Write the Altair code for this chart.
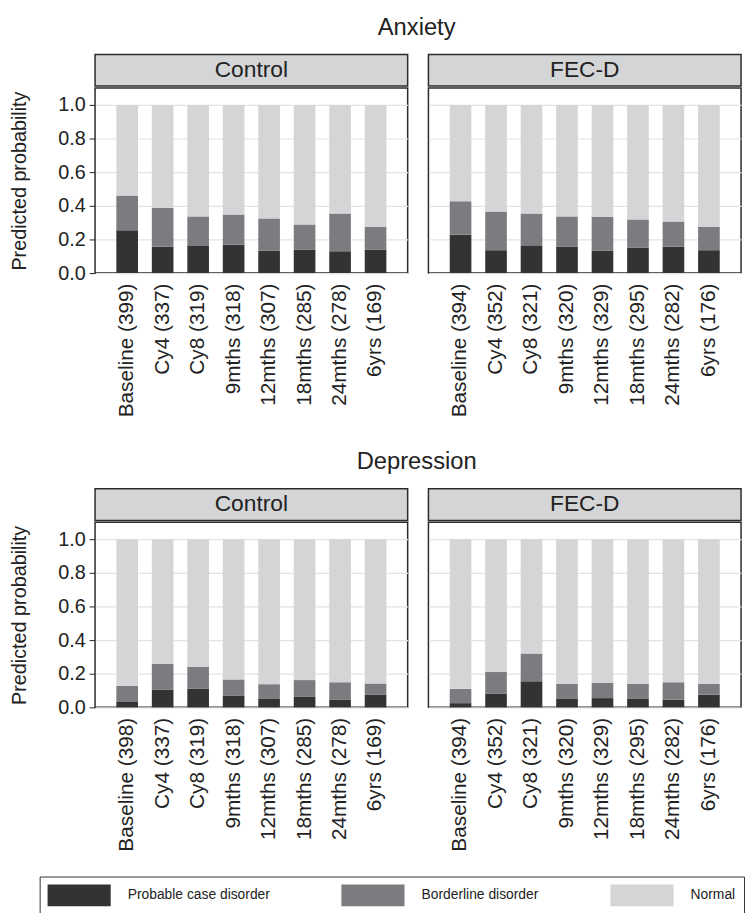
import altair as alt
import pandas as pd

FONT = "Liberation Sans"

outcomes = ["Anxiety", "Depression"]
groups = ["Control", "FEC-D"]
timepoints = ["Baseline", "Cy4", "Cy8", "9mths", "12mths", "18mths", "24mths", "6yrs"]
categories = ["Probable case disorder", "Borderline disorder", "Normal"]
colors = ["#333333", "#7b7c7f", "#d4d5d7"]

# sample sizes shown in tick labels
n_anx_control = [399, 337, 319, 318, 307, 285, 278, 169]
n_anx_fecd = [394, 352, 321, 320, 329, 295, 282, 176]
n_dep_control = [398, 337, 319, 318, 307, 285, 278, 169]
n_dep_fecd = [394, 352, 321, 320, 329, 295, 282, 176]

# predicted probabilities
prob_anx_control = [0.254, 0.157, 0.161, 0.169, 0.134, 0.138, 0.130, 0.138]
border_anx_control = [0.207, 0.231, 0.176, 0.179, 0.191, 0.151, 0.224, 0.138]
prob_anx_fecd = [0.228, 0.136, 0.165, 0.156, 0.134, 0.150, 0.156, 0.136]
border_anx_fecd = [0.199, 0.230, 0.189, 0.181, 0.201, 0.169, 0.151, 0.140]
prob_dep_control = [0.032, 0.104, 0.110, 0.068, 0.050, 0.062, 0.046, 0.074]
border_dep_control = [0.096, 0.154, 0.132, 0.098, 0.088, 0.100, 0.104, 0.068]
prob_dep_fecd = [0.025, 0.080, 0.155, 0.050, 0.055, 0.050, 0.045, 0.075]
border_dep_fecd = [0.085, 0.130, 0.165, 0.090, 0.090, 0.090, 0.105, 0.065]

series = {
    ("Anxiety", "Control"): (n_anx_control, prob_anx_control, border_anx_control),
    ("Anxiety", "FEC-D"): (n_anx_fecd, prob_anx_fecd, border_anx_fecd),
    ("Depression", "Control"): (n_dep_control, prob_dep_control, border_dep_control),
    ("Depression", "FEC-D"): (n_dep_fecd, prob_dep_fecd, border_dep_fecd),
}

rows = []
for (outcome, group), (ns, probs, borders) in series.items():
    for tp, n, p, b in zip(timepoints, ns, probs, borders):
        label = f"{tp} ({n})"
        vals = [p, b, 1 - p - b]
        for rank, (cat, v) in enumerate(zip(categories, vals)):
            rows.append({"outcome": outcome, "group": group, "label": label,
                         "category": cat, "value": v, "rank": rank})
df = pd.DataFrame(rows)

W = 316
H = 187
STRIP_H = 32


def panel(outcome, group, first):
    ns = series[(outcome, group)][0]
    labels = [f"{tp} ({n})" for tp, n in zip(timepoints, ns)]
    d = df[(df.outcome == outcome) & (df.group == group)]

    strip = alt.Chart(pd.DataFrame({"g": [group]})).mark_text(
        font=FONT, fontSize=23, color="#222222", baseline="middle", align="center"
    ).encode(text="g:N").properties(
        width=W, height=STRIP_H,
        view=alt.ViewBackground(fill="#d4d5d7", stroke="#2b2b2b", strokeWidth=1.5),
    )

    yaxis = alt.Axis(
        values=[0, 0.2, 0.4, 0.6, 0.8, 1.0], format=".1f",
        title="Predicted probability" if first else None,
        labels=first, ticks=first, tickSize=6, tickColor="#222222",
        domain=False, grid=True, gridColor="#e3e3e3", gridWidth=1.2,
        labelFontSize=20, titleFontSize=20, titleFontWeight="normal",
        titlePadding=29, labelPadding=4,
    )
    bars = alt.Chart(d).mark_bar().encode(
        x=alt.X("label:N", sort=labels,
                scale=alt.Scale(paddingInner=0.39, paddingOuter=0.6),
                axis=alt.Axis(title=None, labelAngle=-90, ticks=False, domain=False,
                              labelFontSize=21, labelPadding=10, labelLimit=300)),
        y=alt.Y("value:Q", stack="zero",
                scale=alt.Scale(domain=[0, 1.1], nice=False), axis=yaxis),
        color=alt.Color("category:N",
                        scale=alt.Scale(domain=categories, range=colors),
                        legend=alt.Legend(
                            title=None, orient="none", legendX=-56, legendY=831,
                            direction="horizontal", columns=3, gridAlign="each",
                            symbolType="M-1,-1H4.8V1H-1Z", symbolSize=484,
                            symbolStrokeWidth=0, symbolOpacity=1,
                            labelFontSize=14, labelOffset=59, columnPadding=72,
                            labelLimit=400,
                            strokeColor="#333333", padding=8, fillColor="white",
                        )),
        order=alt.Order("rank:Q", sort="ascending"),
    ).properties(
        width=W, height=H,
        view=alt.ViewBackground(stroke="#2b2b2b", strokeWidth=1.5),
    )
    return alt.vconcat(strip, bars, spacing=0)


def row(outcome):
    return alt.hconcat(
        panel(outcome, "Control", True),
        panel(outcome, "FEC-D", False),
        spacing=19,
    ).properties(title=alt.Title(outcome, fontSize=24, font=FONT, fontWeight="normal",
                                 anchor="middle", frame="bounds", dx=42, offset=14,
                                 color="#222222"))


chart = alt.vconcat(row("Anxiety"), row("Depression"), spacing=32).properties(
    padding={"left": 0, "top": 3, "right": 0, "bottom": 0}
).configure(font=FONT).configure_axis(
    labelFont=FONT, titleFont=FONT, labelColor="#222222", titleColor="#222222"
).configure_legend(labelFont=FONT, labelColor="#222222").configure_view(
    stroke="#2b2b2b"
)

chart.save("out.html", embed_options={"renderer": "svg", "actions": False})
